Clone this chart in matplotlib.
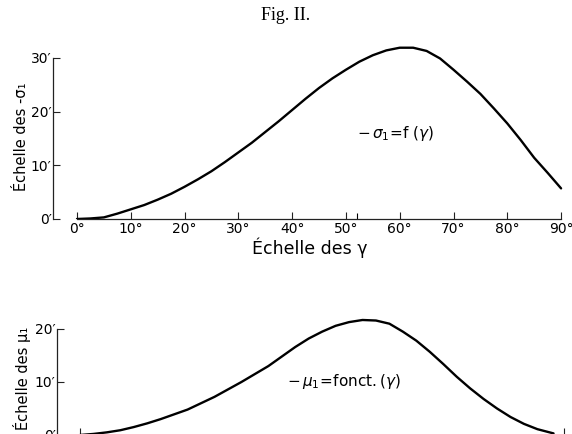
import matplotlib
matplotlib.use("Agg")
import matplotlib.pyplot as plt

plt.rcParams["font.family"] = ["DejaVu Sans"]
plt.rcParams["mathtext.fontset"] = "dejavusans"

# -sigma_1 as a function of gamma (minutes of arc)
gamma_sigma = [0, 2.5, 5, 7.5, 10, 12.5, 15, 17.5, 20, 22.5, 25, 27.5, 30, 32.5, 35, 37.5,
               40, 42.5, 45, 47.5, 50, 52.5, 55, 57.5, 60, 62.5, 65, 67.5, 70, 72.5, 75,
               77.5, 80, 82.5, 85, 87.5, 90]
sigma_vals = [0, 0.1, 0.3, 1.0, 1.8, 2.6, 3.6, 4.7, 6.0, 7.4, 8.9, 10.6, 12.4, 14.2, 16.2,
              18.2, 20.3, 22.4, 24.4, 26.2, 27.8, 29.3, 30.5, 31.4, 31.9, 31.9, 31.3, 29.9,
              27.8, 25.6, 23.3, 20.6, 17.8, 14.7, 11.4, 8.6, 5.7]

# mu_1 as a function of gamma (minutes of arc)
gamma_mu = [0, 2.5, 5, 7.5, 10, 12.5, 15, 17.5, 20, 22.5, 25, 27.5, 30, 32.5, 35, 37.5, 40,
            42.5, 45, 47.5, 50, 52.5, 55, 57.5, 60, 62.5, 65, 67.5, 70, 72.5, 75, 77.5, 80,
            82.5, 85, 88]
mu_vals = [0, 0.2, 0.5, 0.9, 1.5, 2.2, 3.0, 3.9, 4.8, 6.0, 7.2, 8.6, 10.0, 11.5, 13.0, 14.8,
           16.6, 18.2, 19.5, 20.6, 21.3, 21.7, 21.6, 21.0, 19.5, 17.8, 15.7, 13.4, 11.0, 8.8,
           6.8, 5.0, 3.4, 2.1, 1.1, 0.3]

x_ticks = [0, 10, 20, 30, 40, 50, 60, 70, 80, 90]
x_labels = [f"{t}°" for t in x_ticks]
sigma_ticks = [0, 10, 20, 30]
mu_ticks = [0, 10, 20]

W, H = 572, 434
fig = plt.figure(figsize=(W / 100, H / 100), dpi=100)
fig.patch.set_facecolor("white")


def style_axes(ax, ybound):
    for s in ("top", "right"):
        ax.spines[s].set_visible(False)
    ax.spines["left"].set_bounds(*ybound)
    ax.spines["bottom"].set_bounds(0, 90)
    for s in ("left", "bottom"):
        ax.spines[s].set_linewidth(0.9)
        ax.spines[s].set_color("#222222")
    ax.tick_params(direction="in", length=5, width=0.8, color="#222222",
                   labelsize=10, pad=2)
    ax.tick_params(axis="y", pad=1)


# upper panel
ax1 = fig.add_axes([53 / W, 1 - 219 / H, 514 / W, 174.5 / H])
ax1.plot(gamma_sigma, sigma_vals, color="black", lw=1.7, solid_capstyle="round",
         solid_joinstyle="round")
ax1.set_xlim(-4.46, 91.1)
ax1.set_ylim(0, 32.5)
ax1.set_xticks(x_ticks)
ax1.set_xticklabels(x_labels)
ax1.set_xticks([52], minor=True)
ax1.tick_params(axis="x", which="minor", direction="in", length=4, width=0.8)
ax1.set_yticks(sigma_ticks)
ax1.set_yticklabels([f"{t}′" for t in sigma_ticks])
style_axes(ax1, (0, 30))
ax1.set_xlabel("Échelle des γ", fontsize=12.5, labelpad=1)
ax1.text(52, 16, r"$-\,\sigma_1\!=\!\mathrm{f}\;(\gamma)$", fontsize=11,
         ha="left", va="center")

# lower panel (its x axis runs off the bottom edge)
ax2 = fig.add_axes([57 / W, 1 - 435 / H, 510 / W, 119.25 / H])
ax2.plot(gamma_mu, mu_vals, color="black", lw=1.7, solid_capstyle="round",
         solid_joinstyle="round")
ax2.set_xlim(-4.27, 90.5)
ax2.set_ylim(0, 22.5)
ax2.set_xticks([0, 90])
ax2.set_xticklabels([])
ax2.set_yticks(mu_ticks)
ax2.set_yticklabels([f"{t}′" for t in mu_ticks])
style_axes(ax2, (0, 20))
ax2.text(38.5, 10, r"$-\,\mu_1\!=\!\mathrm{fonct.}(\gamma)$", fontsize=11,
         ha="left", va="center")

fig.text(22 / W, 1 - 137 / H, "Échelle des -σ₁", rotation=90, fontsize=10.5,
         ha="center", va="center")
fig.text(22 / W, 1 - 378 / H, "Échelle des μ₁", rotation=90, fontsize=10.5,
         ha="center", va="center")
fig.text(286 / W, 1 - 16 / H, "Fig. II.", family="Liberation Serif", fontsize=13,
         ha="center", va="center")

fig.savefig("out.png", dpi=100, facecolor="white")
